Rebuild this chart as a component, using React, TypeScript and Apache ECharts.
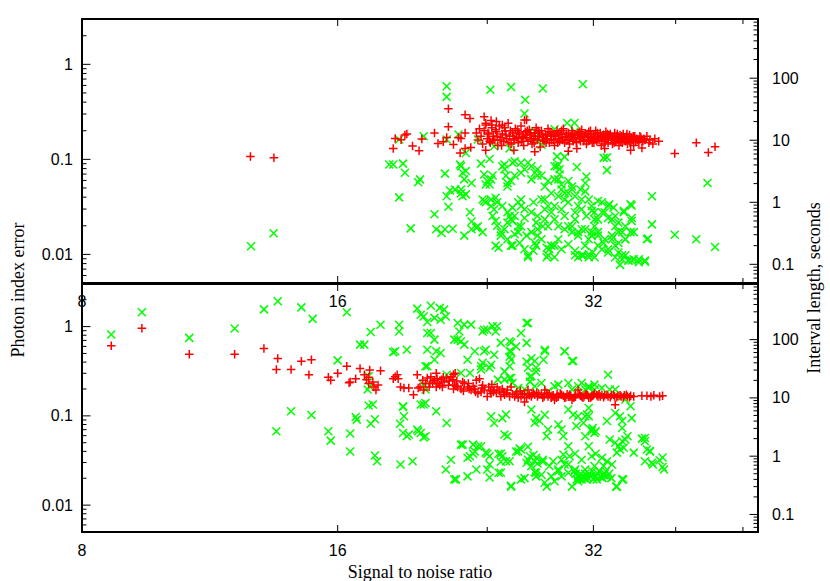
import { useEffect, useRef } from "react";
import * as echarts from "echarts";

// ---- axis ranges & tick labels ----
const X_MIN = 8;
const X_MAX = 50;
const LEFT_MIN = 0.005;
const LEFT_MAX = 3;
const RIGHT_MIN = 0.05;
const RIGHT_MAX = 900;
const xTickValues = [8, 16, 24, 32, 40, 48];
const xMajorTicks = [8, 16, 32];
const xTickLabels = [8, 16, 32];
const leftTickLabels = [0.01, 0.1, 1];
const rightTickLabels = [0.1, 1, 10, 100];

// ---- top panel: photon index error (red +) ----
const topIndexError: number[][] = [
  [12.63,0.107],[13.46,0.104],
  [18.6,0.13],[18.7,0.166],[19.0,0.161],[19.2,0.18],[19.3,0.185],[19.6,0.138],[19.95,0.123],[20.1,0.164],[20.8,0.19],[21.0,0.147],[21.3,0.153],[21.5,0.17],[21.6,0.22],[21.6,0.34],[21.9,0.143],[22.2,0.17],[22.35,0.166],[22.6,0.19],[22.6,0.294],[22.9,0.27],[22.3,0.117],[22.6,0.13],[22.95,0.133],
  [23.3,0.19],[23.4,0.16],[23.5,0.21],[23.6,0.175],[23.7,0.145],[23.8,0.2],[23.9,0.23],[24.0,0.165],[24.1,0.185],[24.2,0.15],[24.3,0.215],[24.4,0.175],[24.5,0.16],[24.6,0.195],[24.7,0.14],[24.8,0.225],[24.9,0.17],[25.0,0.185],[25.1,0.155],[25.2,0.2],[25.3,0.165],[25.4,0.24],[25.5,0.175],[25.6,0.145],[25.7,0.19],[25.8,0.16],[25.9,0.21],[26.0,0.17],[26.1,0.15],[26.2,0.185],[26.3,0.225],[26.4,0.165],[26.5,0.14],[26.55,0.26],[26.6,0.195],[26.7,0.17],[26.8,0.155],[26.9,0.205],[27.0,0.18],[27.1,0.145],[27.2,0.165],[27.3,0.19],[27.4,0.215],[27.5,0.16],[27.6,0.175],[27.7,0.135],[27.8,0.2],[27.9,0.17],[28.0,0.155],[28.1,0.185],[28.2,0.165],[28.3,0.21],[28.4,0.15],[28.5,0.175],[28.6,0.19],[28.7,0.16],[28.8,0.14],[28.9,0.18],[29.0,0.2],[29.1,0.165],[29.2,0.155],[29.3,0.185],[29.4,0.17],[29.5,0.21],[29.6,0.15],[29.7,0.175],[29.8,0.16],[29.9,0.19],[30.0,0.145],[30.1,0.17],[30.2,0.2],[30.3,0.155],[30.4,0.18],[30.5,0.165],[30.6,0.13],[30.7,0.19],[30.8,0.17],[30.9,0.155],[31.0,0.205],[31.1,0.175],[31.2,0.16],[31.3,0.185],[31.4,0.145],[31.5,0.17],[31.6,0.195],[31.7,0.16],[31.8,0.175],[31.9,0.15],[32.0,0.185],[32.1,0.165],[32.2,0.2],[32.3,0.155],[32.4,0.175],[32.5,0.16],[32.6,0.19],[32.7,0.14],[32.8,0.17],[32.9,0.18],[33.0,0.155],[33.1,0.195],[33.2,0.165],[33.3,0.15],[33.4,0.175],[33.5,0.185],[33.6,0.16],[33.7,0.145],[33.8,0.17],[33.9,0.19],[34.0,0.155],[34.1,0.175],[34.2,0.16],[34.3,0.14],[34.4,0.18],[34.5,0.165],[34.6,0.15],[34.7,0.185],[34.8,0.17],[34.9,0.155],[35.0,0.175],[35.1,0.145],[35.2,0.165],[35.3,0.18],[35.4,0.155],[35.5,0.17],[35.6,0.16],[35.7,0.14],[35.8,0.175],[35.9,0.155],[36.0,0.165],[36.2,0.15],[36.4,0.17],[36.6,0.155],[36.8,0.16],[37.0,0.175],[37.2,0.15],[37.3,0.16],[37.6,0.145],[37.8,0.165],[38.2,0.155],
  [24.05,0.19],[24.35,0.16],[24.65,0.175],[24.95,0.14],[25.25,0.18],[25.55,0.2],[25.85,0.165],[26.15,0.19],[26.45,0.175],[26.75,0.2],[27.05,0.16],[27.35,0.175],[27.65,0.19],[27.95,0.16],[28.25,0.18],[28.55,0.16],[28.85,0.175],[29.15,0.19],[29.45,0.16],[29.75,0.185],[30.05,0.175],[30.35,0.165],[30.65,0.18],[30.95,0.17],[31.25,0.175],[31.55,0.155],[31.85,0.17],[32.15,0.175],[32.45,0.17],[32.75,0.16],[33.05,0.17],[33.35,0.175],[33.65,0.17],[33.95,0.165],[34.25,0.17],[34.55,0.175],[34.85,0.16],[35.15,0.17],[35.45,0.165],
  [24.15,0.155],[24.55,0.205],[24.85,0.16],[25.15,0.215],[25.45,0.15],[25.75,0.175],[26.05,0.2],[26.35,0.155],[26.65,0.18],[26.95,0.19],[27.25,0.15],[27.55,0.2],[27.85,0.18],[28.15,0.15],[28.45,0.195],[28.75,0.18],[29.05,0.15],[29.35,0.2],[29.65,0.17],[29.95,0.16],[30.25,0.185],[30.55,0.15],[30.85,0.195],[31.15,0.155],[31.45,0.185],[31.75,0.2],[32.05,0.15],[32.35,0.19],[32.65,0.175],[32.95,0.145],[33.25,0.185],[33.55,0.17],[33.85,0.15],[34.15,0.185],[34.45,0.155],[34.75,0.165],[35.05,0.185],[35.35,0.15],[35.65,0.175],[36.1,0.16],[36.3,0.175],[36.7,0.165],
  [25.8,0.125],[27.3,0.12],[29.9,0.122],[33.0,0.13],[35.4,0.125],[36.5,0.132],[23.9,0.125],
  [24.3,0.23],[23.9,0.24],[24.6,0.25],[25.0,0.23],[23.8,0.28],[24.25,0.256],[26.7,0.26],
  [39.9,0.115],[42.3,0.15],[43.7,0.118],[44.5,0.136],
];

// ---- top panel: interval length, seconds (green x) ----
const topInterval: number[][] = [
  [12.65,0.195],[13.45,0.316],[18.4,4.07],[18.6,4.07],[19.1,4.2],[19.2,3.0],[18.9,1.2],[19.5,0.38],[18.9,10.3],[19.9,2.1],[20.0,2.34],[20.2,11.6],[20.8,0.64],[20.9,0.367],[21.2,0.32],[21.4,0.367],[21.5,74],[21.5,50],[21.5,10.3],[21.4,2.9],[21.5,1.25],[21.6,0.85],[21.7,1.55],[21.85,0.375],[22.0,1.6],[22.2,12.4],[22.3,4.07],[22.35,1.4],[22.45,3.0],[22.45,1.25],[22.55,2.34],[22.55,0.29],[22.65,6.25],[22.9,0.69],[23.0,2.05],[23.0,0.49],[23.0,0.367],[23.3,0.39],[23.4,0.41],[23.4,10.3],[23.6,4.2],[23.7,0.33],[23.7,1.11],[23.8,2.81],[23.9,1.0],[24.0,2.2],[24.15,1.94],[24.2,65],[24.25,0.87],[24.25,2.34],[24.35,0.6],[24.45,0.77],[24.45,8.0],[24.55,0.5],[24.65,1.0],[24.75,0.185],[24.9,0.33],[25.0,3.8],[25.0,0.87],[25.15,0.367],[25.15,3.4],[25.25,2.7],[25.35,1.8],[25.35,0.69],[25.35,0.253],[25.5,7.4],[25.6,72],[25.6,2.2],[25.6,0.53],[25.6,0.2],[25.85,4.6],[25.85,0.6],[26.1,1.0],[26.1,0.33],[26.3,4.35],[26.3,1.11],[26.3,0.41],[26.55,3.4],[26.55,0.77],[26.55,27],[26.6,45],[26.7,0.29],[26.8,4.35],[26.8,0.13],[27.05,3.8],[27.05,0.33],[27.3,3.0],[27.3,14],[27.4,0.2],[27.5,3.4],[27.5,0.367],[27.8,2.7],[27.8,0.253],[27.9,68],[28.05,1.8],[28.05,1.11],[28.05,0.53],[28.2,0.185],[28.3,2.2],[28.3,0.87],[28.3,0.41],[28.3,0.14],[28.55,1.4],[28.55,0.69],[28.55,0.2],[28.8,3.8],[28.8,0.53],[28.8,0.13],[28.8,15],[29.1,4.07],[29.1,0.253],[29.2,2.81],
  [29.1,2.34],[29.35,1.61],[29.6,1.11],[29.9,1.4],[30.2,1.8],[30.45,1.25],[30.7,0.87],[31.0,1.11],[31.3,2.05],[29.6,0.6],[29.9,0.41],[30.2,0.33],[30.45,0.53],[30.7,0.29],[31.0,0.367],[31.3,0.2],[31.6,0.253],[31.85,0.33],[32.1,0.41],[32.4,0.29],[30.45,0.14],[30.7,0.13],[31.15,0.14],[31.6,0.13],[31.95,0.155],[32.4,0.2],[32.9,0.22],[33.3,0.175],[33.65,0.253],[33.95,0.2],[34.25,0.155],[34.6,0.121],[34.9,0.14],[35.2,0.115],[35.5,0.115],[36.2,0.121],[36.8,0.115],[31.6,1.11],[31.85,0.87],[32.1,0.69],[32.4,0.53],[32.75,1.0],[33.0,0.69],[33.3,0.87],[33.65,0.53],[33.95,0.41],[34.25,0.33],[34.75,0.69],[35.4,0.925],[35.5,0.56],[34.6,0.33],[34.9,0.253],[35.4,0.33],[32.9,5.2],[33.2,3.3],[37.5,1.25],[37.5,0.44],[37.1,0.26],[39.9,0.3],[42.3,0.253],[43.6,2.05],[44.5,0.19],[31.1,80],[30.4,19],[29.8,19],[30.45,14],[33.2,12.4],[33.2,5.3],[29.0,5.5],[29.0,3.8],[29.2,3.4],[29.6,5.4],[30.6,3.7],[31.4,2.6],
  [28.8,2.34],[29.35,1.94],[29.9,2.2],[30.2,1.61],[30.9,1.61],[31.3,1.5],[29.6,1.4],[29.1,1.25],[32.4,1.05],[33.4,0.925],[33.8,0.82],[34.75,0.73],[35.5,0.89],[35.7,0.33],[37.0,0.253],[28.8,0.87],[29.35,0.77],[29.9,1.0],[30.45,0.69],[31.0,0.77],[31.4,0.6],[31.85,0.73],[32.1,0.53],[32.75,0.69],[33.3,0.56],[33.95,0.6],[34.25,0.47],[34.9,0.41],[35.5,0.5],[29.1,0.41],[29.6,0.367],[30.2,0.41],[30.7,0.33],[31.3,0.367],[31.85,0.29],[32.4,0.33],[33.0,0.253],[33.65,0.29],[34.25,0.22],[34.9,0.253],[28.8,0.2],[29.35,0.175],[29.9,0.21],[30.45,0.165],[31.0,0.14],[31.6,0.145],[32.1,0.13],[32.75,0.175],[33.3,0.155],[33.95,0.13],[34.6,0.14],[35.2,0.115],[35.7,0.121],[36.2,0.108],[36.8,0.11],[34.4,0.098],
  [27.5,10],[27.8,8.5],[22.35,3.8],[22.65,3.2],[22.35,1.61],[22.65,1.34],[24.15,5.0],[23.9,1.94],[24.35,2.7],[23.8,1.05],[24.25,1.11],[24.55,1.18],[24.65,0.42],[24.9,0.29],[24.55,0.2],[25.15,4.07],[25.35,2.05],[25.7,4.35],[26.3,3.0],[25.85,2.7],[26.3,0.87],[25.7,0.82],[25.5,0.6],[25.7,0.5],[25.35,0.47],[26.1,0.41],[26.55,0.56],[25.85,0.305],[26.2,0.22],[25.7,0.2],[26.55,0.175],[26.8,0.14],[27.5,2.7],[27.05,2.34],[27.2,1.0],[27.8,1.11],[27.05,0.69],[27.5,0.6],[28.05,0.77],[27.4,0.47],[27.9,0.41],[27.5,0.29],[27.3,0.22],[27.2,0.165],[28.2,0.13],[28.4,0.175],
];

// ---- bottom panel: photon index error (red +) ----
const bottomIndexError: number[][] = [
  [8.66,0.61],[9.41,0.96],[10.7,0.49],[12.1,0.49],[13.1,0.57],[13.6,0.44],[13.55,0.33],[14.1,0.33],[14.5,0.41],[14.9,0.424],[14.8,0.288],[15.6,0.27],[15.7,0.25],[16.0,0.3],[16.4,0.36],[16.55,0.24],[16.5,0.235],[16.8,0.26],[17.0,0.34],[17.2,0.288],[17.3,0.253],[17.4,0.27],[17.45,0.327],[17.4,0.23],[17.6,0.24],[17.65,0.21],[17.75,0.195],[17.85,0.222],[17.97,0.32],[18.6,0.26],[18.7,0.275],[18.8,0.288],[18.85,0.26],[18.97,0.21],[19.15,0.205],[19.4,0.205],[19.65,0.172],[19.9,0.205],[19.85,0.288],
  [20.0,0.21],[20.2,0.195],[20.4,0.265],[20.6,0.275],[20.7,0.24],[20.9,0.21],[21.0,0.23],[21.2,0.253],[21.35,0.24],[21.5,0.265],[21.75,0.275],[21.85,0.253],[21.95,0.222],[22.15,0.21],[22.35,0.2],[22.55,0.23],[22.75,0.21],[22.97,0.195],[23.2,0.2],[23.4,0.178],[23.6,0.185],[23.8,0.195],[24.0,0.165],[24.25,0.178],[24.45,0.195],[24.65,0.21],[24.9,0.165],[25.15,0.172],[25.35,0.195],[25.6,0.21],[25.85,0.165],[26.1,0.16],[26.3,0.165],[26.55,0.178],[26.8,0.195],[27.05,0.165],[27.3,0.172],[27.5,0.165],[27.8,0.172],[28.05,0.195],[28.3,0.165],[28.55,0.16],[28.8,0.151],[29.1,0.165],[29.35,0.172],[29.6,0.16],[29.9,0.165],[30.2,0.151],[30.45,0.165],[30.7,0.195],[31.0,0.165],[31.3,0.172],[31.6,0.16],[31.85,0.165],[32.1,0.178],[32.4,0.165],[32.75,0.172],
  [20.3,0.23],[20.5,0.21],[20.8,0.25],[21.1,0.22],[21.3,0.27],[21.6,0.22],[21.9,0.2],[22.1,0.245],[22.5,0.19],[22.8,0.23],[23.1,0.215],[23.3,0.25],[23.7,0.22],[24.1,0.21],[24.4,0.185],[24.8,0.19],[25.0,0.2],[25.3,0.18],[25.7,0.175],[26.0,0.185],[26.4,0.175],[26.9,0.17],[27.2,0.18],[27.6,0.175],[28.0,0.165],[28.4,0.175],[28.7,0.17],[29.0,0.175],[29.5,0.168],[29.8,0.175],[30.1,0.168],[30.5,0.172],[30.9,0.168],[31.2,0.165],[31.5,0.17],[31.9,0.168],[32.3,0.17],[32.6,0.165],[33.0,0.17],[33.3,0.165],[33.6,0.17],[33.9,0.165],[34.2,0.168],[34.5,0.165],[34.8,0.17],[35.1,0.165],[35.4,0.168],[35.7,0.165],
  [20.15,0.25],[20.55,0.23],[20.95,0.26],[21.25,0.21],[21.65,0.245],[22.05,0.215],[22.45,0.24],[22.85,0.2],[23.25,0.185],[23.65,0.205],[24.2,0.19],[24.6,0.18],[25.1,0.185],[25.5,0.165],[25.95,0.175],[26.25,0.19],[26.7,0.16],[27.1,0.175],[27.45,0.18],[27.9,0.16],[28.2,0.18],[28.6,0.168],[28.95,0.16],[29.25,0.178],[29.7,0.162],[30.0,0.172],[30.35,0.16],[30.8,0.175],[31.1,0.16],[31.4,0.175],[31.75,0.16],[32.0,0.17],[32.5,0.175],[32.9,0.162],[33.2,0.172],[33.5,0.162],[33.8,0.172],[34.1,0.162],[34.4,0.17],[34.7,0.162],[35.0,0.172],[35.3,0.162],
  [36.5,0.168],[37.0,0.168],[37.4,0.165],[37.7,0.17],[38.3,0.165],[38.6,0.168],
  [33.95,0.133],[26.55,0.143],[23.5,0.26],[24.3,0.225],[21.9,0.29],[22.0,0.3],[20.9,0.3],
];

// ---- bottom panel: interval length, seconds (green x) ----
const bottomInterval: number[][] = [
  [8.66,122],[9.41,295],[10.7,107],[12.1,155],[13.1,330],[13.6,455],[14.5,357],[14.95,227],[13.55,2.68],[14.1,5.9],[14.9,5.1],[15.6,2.68],[15.7,1.85],[16.0,44],[16.4,295],[16.55,2.45],[16.55,1.2],[16.8,4.7],[16.85,4.24],[17.0,82],[17.2,82],[17.35,13.9],[17.4,23.5],[17.45,15.8],[17.4,7.4],[17.6,7.7],[17.5,3.6],[17.7,4.3],[17.5,135],[17.7,1.03],[17.8,0.82],[17.97,180],[18.6,61],[18.7,63],[18.9,180],[18.9,138],[18.95,3.6],[19.1,7.2],[18.97,0.72],[19.3,67],[19.6,0.82],[19.85,340],[19.9,2.68],
  [19.1,2.5],[19.3,2.2],[19.4,2.35],[19.85,2.86],[20.04,2.5],[20.2,2.1],[20.3,2.2],[19.1,7.0],[19.15,4.85],[20.2,250],[20.4,200],[20.4,130],[20.4,67],[20.4,35],[20.2,16.9],[20.3,13.9],[20.2,7.7],
  [20.04,268],[20.8,236],[21.15,220],[21.35,327],[21.45,250],[20.6,130],[20.8,100],[20.9,63],[21.15,59],[20.8,45],[22.15,193],[22.55,181],[22.97,181],[22.35,94],[22.55,82],[21.95,100],[23.2,63],[23.8,63],[23.7,40],[22.75,45],[23.6,35],[24.15,33],[23.8,148],[23.7,138],[24.0,148],[24.35,170],[24.55,138],[24.65,170],[24.9,88],[25.5,94],[25.5,63],[25.6,45],[25.5,35],[26.3,130],[26.8,193],[26.7,88],[27.05,48],[27.3,43],[27.4,33],[27.05,23.5],[28.05,67],[29.6,63],[30.3,43],[25.15,28.5],[25.6,22],[24.25,37],[20.3,35],
  [20.3,8.2],[20.9,5.9],[21.5,3.7],[22.45,1.58],[23.1,1.58],[23.2,1.2],[22.9,1.0],[23.6,1.48],[23.9,1.15],[24.15,1.0],[23.3,0.59],[22.75,0.45],[21.45,0.59],[22.05,0.4],[24.0,0.59],[24.15,0.43],[24.75,0.52],
  [24.25,4.85],[24.45,3.7],[25.0,4.5],[25.25,5.2],[25.15,2.35],[25.35,2.2],
  [24.9,1.1],[25.0,1.0],[25.5,0.82],[26.1,1.2],[26.3,1.3],[26.8,1.45],[26.8,0.87],[27.2,1.05],[27.4,0.94],[27.5,0.75],[27.05,0.68],[27.9,0.8],[27.3,0.53],[27.4,0.45],[27.8,0.48],[26.3,0.4],[26.55,0.42],[25.6,0.31],[24.9,0.8],
  [27.05,6.3],[27.4,4.5],[28.05,5.15],[27.65,4.0],[27.3,3.75],[28.3,2.86],[28.2,2.2],[29.1,3.5],[29.35,2.86],[29.5,2.2],[29.9,6.3],[30.3,5.15],[30.7,4.85],[31.15,3.7],[31.6,4.85],[31.85,2.86],[32.1,2.5],[30.55,3.3],[31.3,2.2],[31.6,1.48],[29.9,1.48],[30.0,1.0],[30.45,1.1],[29.35,0.87],[29.6,0.72],[29.1,0.59],[28.55,0.45],[29.35,0.45],[29.9,0.52],[28.8,0.37],[28.2,0.3],[30.45,0.59],[30.7,0.37],
  [33.3,25],[31.0,18],[31.6,15.8],[32.1,16.9],[32.75,14.8],[33.45,13.9],[33.95,13.9],[34.6,10.6],[34.9,9.4],[35.4,7.2],[31.6,6.7],[31.45,5.2],[31.3,4.85],[33.95,5.5],[34.4,4.85],[34.6,4.0],[35.5,4.5],[33.2,4.0],[31.95,3.05],[31.85,2.68],[32.2,2.68],[34.6,3.05],
  [33.45,1.93],[33.95,1.7],[34.25,1.48],[34.6,1.8],[34.9,1.93],[34.4,1.3],[34.1,1.15],[34.75,1.4],[35.7,1.15],[35.1,2.2],[36.8,2.05],[36.8,1.8],[37.3,1.22],[37.5,0.77],[38.6,0.95],[38.75,0.59],[36.8,0.82],[37.6,0.72],
  [31.0,0.87],[31.85,1.0],[32.2,1.1],[32.75,0.94],[33.2,0.82],[33.65,0.72],[32.9,0.68],[32.1,0.68],[31.3,0.59],[34.7,0.4],[34.05,0.3],
  [30.5,0.5],[30.7,0.45],[30.9,0.5],[31.1,0.45],[31.3,0.5],[30.6,0.4],[30.8,0.42],[31.0,0.4],[31.2,0.42],[31.4,0.4],[31.6,0.5],[31.8,0.45],[32.0,0.4],[32.2,0.45],[32.4,0.5],[32.6,0.45],[32.8,0.42],[33.0,0.5],[33.2,0.45],[33.4,0.5],[33.6,0.42],[31.5,0.43],[32.3,0.4],[32.9,0.47],[30.4,0.55],[31.9,0.55],[32.5,0.55],[33.1,0.55],
  [25.5,22],[25.7,18],[26.1,14.8],[26.55,13.9],[26.95,19],[27.3,15.8],[27.8,18],[28.3,12.9],[28.8,15.8],[29.1,16.9],[29.9,18],[30.2,13.9],[30.7,15.8],[31.3,13.9],[31.6,14.8],[32.1,13.9],[20.04,7.7],[22.35,26.8],[22.9,26.8],[21.5,25],[23.6,30.6],
  [21.75,0.87],[21.95,0.4],[22.35,1.58],[22.75,0.94],[23.1,1.1],[23.4,1.48],[24.0,1.1],[24.15,0.72],[24.75,1.1],[24.9,0.52],[25.25,0.82],[25.6,0.3],[25.95,1.2],[26.2,1.35],[26.7,0.77],[26.95,1.0],[27.3,0.82],[27.4,0.52],[27.9,0.87],[28.05,0.35],[28.4,0.68],[28.7,0.82],[29.1,0.55],[29.5,1.07],[29.9,0.72],[30.2,0.3],[34.1,0.3],[34.6,0.4],
  [36.5,2.0],[37.0,1.3],[37.3,1.2],[38.3,0.85],[38.6,0.65],[20.6,380],[21.1,350],
  [26.7,193],[25.6,89],[25.95,76],[25.5,51],[25.6,62],[26.7,42],[26.8,33],[28.05,63],[27.95,45],[29.6,63],[30.2,43],[26.95,23],[27.4,28],[25.15,20.6],[24.7,20.6],[23.9,67],[24.45,55],
  [22.25,138],[22.15,100],
];

const RED = "#ff0000";
const GREEN = "#00ff00";
const PLUS = "path://M0,5L10,5M5,0L5,10";
const CROSS = "path://M0,0L10,10M10,0L0,10";

function logTicks(min: number, max: number) {
  const out: { v: number; major: boolean }[] = [];
  for (let k = Math.floor(Math.log10(min)); k <= Math.ceil(Math.log10(max)); k++) {
    for (let m = 1; m <= 9; m++) {
      const v = m * Math.pow(10, k);
      if (v > min * 1.0001 && v < max * 0.9999) out.push({ v, major: m === 1 });
    }
  }
  return out;
}

function labelFormatter(list: number[]) {
  return (v: number) => {
    const m = list.find((l) => Math.abs(v / l - 1) < 1e-6);
    return m !== undefined ? String(m) : "";
  };
}

const tickFont = { fontSize: 16, fontFamily: "Liberation Sans", color: "#000" };
const frameLine = { show: true, lineStyle: { color: "#000", width: 2 } };

function xAxisDef(gridIndex: number, position: "top" | "bottom", labels: boolean) {
  return {
    type: "log",
    logBase: 2,
    gridIndex,
    position,
    min: X_MIN,
    max: X_MAX,
    axisLine: { ...frameLine, onZero: false },
    axisTick: { show: false },
    splitLine: { show: false },
    minorTick: { show: false },
    axisLabel: labels
      ? { show: true, margin: 10, ...tickFont, formatter: labelFormatter(xTickLabels) }
      : { show: false },
  };
}

function yAxisDef(gridIndex: number, position: "left" | "right") {
  const left = position === "left";
  return {
    type: "log",
    logBase: 10,
    gridIndex,
    position,
    min: left ? LEFT_MIN : RIGHT_MIN,
    max: left ? LEFT_MAX : RIGHT_MAX,
    axisLine: { ...frameLine, onZero: false },
    axisTick: { show: false },
    splitLine: { show: false },
    axisLabel: {
      show: true,
      margin: left ? 9 : 14,
      ...tickFont,
      formatter: labelFormatter(left ? leftTickLabels : rightTickLabels),
    },
  };
}

function yTickSeries(xAxisIndex: number, yAxisIndex: number, side: "left" | "right") {
  const ticks = side === "left" ? logTicks(LEFT_MIN, LEFT_MAX) : logTicks(RIGHT_MIN, RIGHT_MAX);
  return {
    type: "custom",
    xAxisIndex,
    yAxisIndex,
    silent: true,
    clip: false,
    z: 10,
    animation: false,
    encode: { x: 0, y: 1 },
    data: ticks.map((t) => [X_MIN, t.v, t.major ? 8.5 : 4.5]),
    renderItem: (params: any, api: any) => {
      const cs = params.coordSys;
      const p = api.coord([api.value(0), api.value(1)]);
      const len = api.value(2);
      const x0 = side === "left" ? cs.x : cs.x + cs.width;
      const x1 = side === "left" ? x0 + len : x0 - len;
      return {
        type: "line",
        shape: { x1: x0, y1: p[1], x2: x1, y2: p[1] },
        style: { stroke: "#000", lineWidth: 1 },
      };
    },
  };
}

function xTickSeries(xAxisIndex: number, yAxisIndex: number, yDummy: number) {
  return {
    type: "custom",
    xAxisIndex,
    yAxisIndex,
    silent: true,
    clip: false,
    z: 10,
    animation: false,
    encode: { x: 0, y: 1 },
    data: xTickValues.map((v) => [v, yDummy, xMajorTicks.includes(v) ? 7 : 5]),
    renderItem: (params: any, api: any) => {
      const cs = params.coordSys;
      const p = api.coord([api.value(0), api.value(1)]);
      const len = api.value(2);
      const yb = cs.y + cs.height;
      const yt = cs.y;
      return {
        type: "group",
        children: [
          { type: "line", shape: { x1: p[0], y1: yb, x2: p[0], y2: yb - len }, style: { stroke: "#000", lineWidth: 1 } },
          { type: "line", shape: { x1: p[0], y1: yt, x2: p[0], y2: yt + len }, style: { stroke: "#000", lineWidth: 1 } },
        ],
      };
    },
  };
}

function scatter(data: number[][], xAxisIndex: number, yAxisIndex: number, red: boolean) {
  return {
    type: "scatter",
    xAxisIndex,
    yAxisIndex,
    data,
    symbol: red ? PLUS : CROSS,
    symbolSize: red ? 8.5 : 8,
    z: red ? 4 : 3,
    itemStyle: { color: "transparent", borderColor: red ? RED : GREEN, borderWidth: 1.5, opacity: 1 },
    emphasis: { disabled: true },
    silent: true,
  };
}

export default function App() {
  const ref = useRef<HTMLDivElement>(null);
  useEffect(() => {
    if (!ref.current) return;
    const chart = echarts.init(ref.current, null, { renderer: "svg" });
    const titleStyle = { fontSize: 18, fontFamily: "Liberation Serif", fill: "#000" };
    chart.setOption({
      animation: false,
      backgroundColor: "#fff",
      grid: [
        { left: 82, top: 19, width: 676, height: 264 },
        { left: 82, top: 284, width: 676, height: 248 },
      ],
      xAxis: [
        xAxisDef(0, "bottom", true),
        xAxisDef(0, "top", false),
        xAxisDef(1, "bottom", true),
        xAxisDef(1, "top", false),
      ],
      yAxis: [yAxisDef(0, "left"), yAxisDef(0, "right"), yAxisDef(1, "left"), yAxisDef(1, "right")],
      series: [
        scatter(topInterval, 0, 1, false),
        scatter(topIndexError, 0, 0, true),
        scatter(bottomInterval, 2, 3, false),
        scatter(bottomIndexError, 2, 2, true),
        yTickSeries(0, 0, "left"),
        yTickSeries(0, 1, "right"),
        yTickSeries(2, 2, "left"),
        yTickSeries(2, 3, "right"),
        xTickSeries(0, 0, 0.1),
        xTickSeries(2, 2, 0.1),
      ],
      graphic: [
        {
          type: "text",
          x: 18,
          y: 290,
          rotation: Math.PI / 2,
          style: { ...titleStyle, text: "Photon index error", textAlign: "center", textVerticalAlign: "middle" },
        },
        {
          type: "text",
          x: 814,
          y: 288,
          rotation: Math.PI / 2,
          style: { ...titleStyle, text: "Interval length, seconds", textAlign: "center", textVerticalAlign: "middle" },
        },
        {
          type: "text",
          x: 420,
          y: 572,
          style: { ...titleStyle, text: "Signal to noise ratio", textAlign: "center", textVerticalAlign: "middle" },
        },
      ],
    });
    return () => chart.dispose();
  }, []);
  return (
    <div
      ref={ref}
      style={{ position: "fixed", left: 0, top: 0, width: 830, height: 581, background: "#fff" }}
    />
  );
}
